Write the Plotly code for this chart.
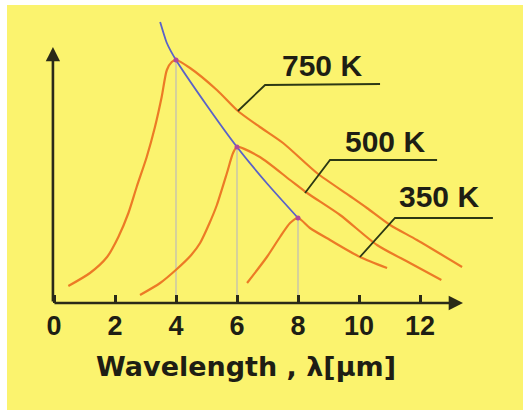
import plotly.graph_objects as go

# ---- data (x: wavelength in um, y: relative intensity) ----
wl_750 = [0.47, 1.18, 1.74, 2.11, 2.44, 2.71, 3.04, 3.31, 3.53, 3.70, 3.86, 4.0,
          4.46, 5.34, 6.03, 6.75, 7.51, 8.62, 9.70, 10.26, 11.02, 11.90, 13.38]
I_750 = [17, 30, 46, 66, 90, 116, 146, 176, 206, 233, 241, 243,
         235, 213, 192, 176, 160, 130, 107, 95, 78, 63, 36]

wl_500 = [2.82, 3.48, 4.03, 4.5, 4.79, 5.1, 5.34, 5.67, 5.87, 6.0,
          6.75, 7.74, 8.30, 9.38, 10.59, 11.67, 12.7]
I_500 = [8, 20, 34, 48, 60, 80, 98, 130, 150, 156,
         146, 123, 110, 88, 58, 40, 23]

wl_350 = [6.33, 6.98, 7.41, 7.74, 8.0, 8.39, 9.05, 10.03, 10.92]
I_350 = [20, 46, 66, 80, 85, 75, 63, 46, 35]

wien_wl = [3.48, 3.70, 4.0, 5.0, 6.0, 7.0, 8.0]
wien_I = [281, 260, 243, 198, 156, 119, 85]

peak_wl = [4, 6, 8]
peak_I = [243, 156, 85]

temps = ["750 K", "500 K", "350 K"]
leader_x = [[6.03, 6.92, 10.69], [8.23, 9.05, 12.56], [10.03, 11.18, 14.39]]
leader_y = [[192, 218, 219], [110, 143, 143], [46, 85, 85]]
label_x = [8.80, 10.85, 12.62]
label_y = [238, 161.5, 106.5]

tick_vals = [0, 2, 4, 6, 8, 10, 12]
tick_text = ["0", "2", "4", "6", "8", "10", "12"]
x_title = "Wavelength , λ[μm]"

# ---- styles ----
ORANGE = "#ec7a26"
BLUE = "#5a62c8"
AXIS = "#2a2a18"
LEADER = "#2c3814"
GREY = "#d2cea0"
YELLOW = "#fbf36e"

fig = go.Figure()

# grey drop lines from peaks
for xv, yv in zip(peak_wl, peak_I):
    fig.add_trace(go.Scatter(x=[xv, xv], y=[0, yv], mode="lines",
                             line=dict(color=GREY, width=1.8), hoverinfo="skip"))

for wl, I in [(wl_750, I_750), (wl_500, I_500), (wl_350, I_350)]:
    fig.add_trace(go.Scatter(x=wl, y=I, mode="lines",
                             line=dict(color=ORANGE, width=2.2, shape="spline", smoothing=0.7)))

fig.add_trace(go.Scatter(x=wien_wl, y=wien_I, mode="lines",
                         line=dict(color=BLUE, width=1.8, shape="spline", smoothing=0.5)))
fig.add_trace(go.Scatter(x=peak_wl, y=peak_I, mode="markers",
                         marker=dict(color="#b04a9a", size=5)))

for lx, ly in zip(leader_x, leader_y):
    fig.add_trace(go.Scatter(x=lx, y=ly, mode="lines",
                             line=dict(color=LEADER, width=1.8)))

W, H = 523, 410

annotations = []
for t, xv, yv in zip(temps, label_x, label_y):
    annotations.append(dict(x=xv, y=yv, xref="x", yref="y", text=t, showarrow=False,
                            xanchor="center", yanchor="middle",
                            font=dict(family="Liberation Sans, Arial", size=30,
                                      color="#1e1e14", weight="bold")))

# axis arrows
annotations.append(dict(x=13.41, y=0, ax=-0.035, ay=0, xref="x", yref="y",
                        axref="x", ayref="y", text="", showarrow=True,
                        arrowhead=2, arrowsize=1.1, arrowwidth=2.6, arrowcolor=AXIS))
annotations.append(dict(x=-0.035, y=256, ax=-0.035, ay=0, xref="x", yref="y",
                        axref="x", ayref="y", text="", showarrow=True,
                        arrowhead=2, arrowsize=1.1, arrowwidth=2.6, arrowcolor=AXIS))

# axis title
annotations.append(dict(x=6.295, y=1 - 366 / H, xref="x", yref="paper", text=x_title,
                        showarrow=False, xanchor="center", yanchor="middle",
                        font=dict(family="DejaVu Sans", size=27, color="#1e1e14",
                                  weight="bold")))

fig.update_layout(
    width=W, height=H,
    margin=dict(l=0, r=0, t=0, b=0),
    paper_bgcolor="white",
    plot_bgcolor="rgba(0,0,0,0)",
    showlegend=False,
    annotations=annotations,
    shapes=[dict(type="rect", xref="paper", yref="paper",
                 x0=7 / W, x1=1, y0=0, y1=1 - 5 / H,
                 fillcolor=YELLOW, line=dict(width=0), layer="below")],
    xaxis=dict(range=[-54 / 30.5, 469 / 30.5], domain=[0, 1],
               showgrid=False, zeroline=False, showline=False,
               tickmode="array", tickvals=tick_vals, ticktext=tick_text,
               ticks="inside", ticklen=8, tickwidth=2.6, tickcolor=AXIS,
               ticklabelstandoff=4,
               tickfont=dict(family="Liberation Sans, Arial", size=27,
                             color="#1e1e14", weight="bold")),
    yaxis=dict(range=[0, 303], domain=[107 / H, 1],
               showgrid=False, zeroline=False, showline=False,
               showticklabels=False, ticks=""),
)

fig.write_html("out.html", config={"displayModeBar": False},
               post_script="document.body.style.margin='0';document.body.style.padding='0';")
